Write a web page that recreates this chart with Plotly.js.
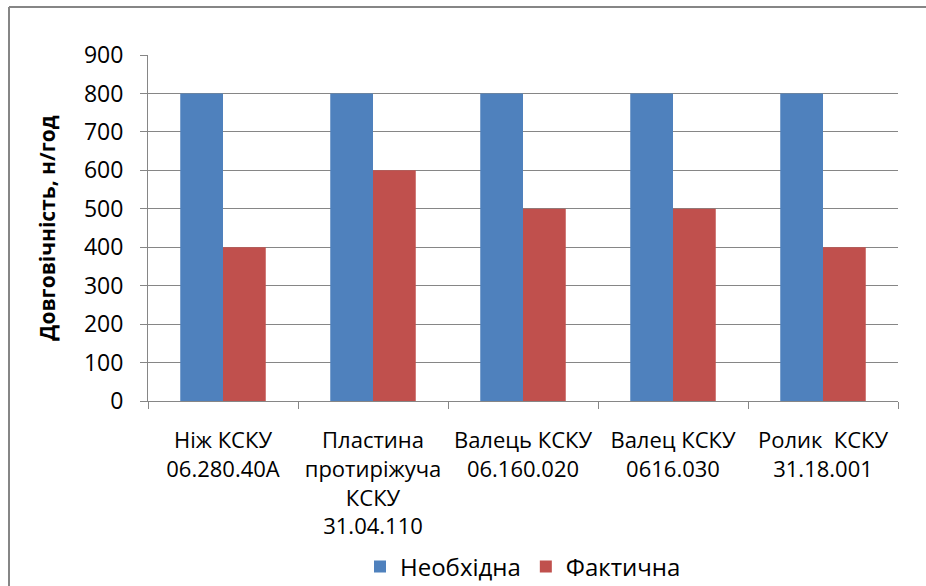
<!DOCTYPE html>
<html><head><meta charset="utf-8">
<script src="https://cdn.plot.ly/plotly-3.0.1.min.js"></script>
<style>html,body{margin:0;padding:0;background:#fff}#chart{width:926px;height:586px}</style>
</head><body><div id="chart"></div>
<script>
const categories = [
  "Ніж КСКУ<br>06.280.40А",
  "Пластина<br>протиріжуча<br>КСКУ<br>31.04.110",
  "Валець КСКУ<br>06.160.020",
  "Валец КСКУ<br>0616.030",
  "Ролик  КСКУ<br>31.18.001"
];
const required = [800, 800, 800, 800, 800];
const actual = [400, 600, 500, 500, 400];
const seriesNames = ["Необхідна", "Фактична"];
const yTicks = [0, 100, 200, 300, 400, 500, 600, 700, 800, 900];

const font = "Open Sans, Noto Sans, sans-serif";
const L = 148, R = 28, T = 55, B = 185, W = 926, H = 586;
const pw = W - L - R, ph = H - T - B;
const px = v => (v - L) / pw, py = v => (H - B - v) / ph;

const data = [
  {type: "bar", x: categories, y: required, name: seriesNames[0], marker: {color: "#4F81BD"}},
  {type: "bar", x: categories, y: actual, name: seriesNames[1], marker: {color: "#C0504D"}}
];
const layout = {
  width: W, height: H,
  margin: {l: L, r: R, t: T, b: B, autoexpand: false},
  paper_bgcolor: "#fff", plot_bgcolor: "#fff",
  barmode: "group", bargap: 0.43, bargroupgap: 0,
  font: {family: font, size: 22, color: "#000"},
  xaxis: {
    type: "category", tickson: "boundaries", ticks: "outside", ticklen: 7, tickcolor: "#868686",
    showline: true, linecolor: "#868686", linewidth: 1, showgrid: false, automargin: false,
    tickangle: 0,
    tickfont: {family: font, size: 22, color: "#000"}, ticklabelstandoff: 20
  },
  yaxis: {
    range: [0, 900], tickvals: yTicks, ticks: "outside", ticklen: 7, tickcolor: "#868686",
    showline: true, linecolor: "#868686", showgrid: true, gridcolor: "#868686", gridwidth: 1,
    zeroline: false, tickfont: {family: font, size: 23, color: "#000"}, ticklabelstandoff: 12,
    automargin: false,
    title: {text: "Довговічність, н/год", font: {family: font, size: 21, color: "#000", weight: "bold"}, standoff: 22}
  },
  legend: {orientation: "h", x: 0.5, xanchor: "center", y: py(567), yanchor: "middle",
    font: {family: font, size: 24, color: "#000"}, itemwidth: 30, tracegroupgap: 0},
  shapes: [
    {type: "line", xref: "paper", yref: "paper", x0: px(9), x1: px(926), y0: py(7), y1: py(7),
     line: {color: "#868686", width: 2}},
    {type: "line", xref: "paper", yref: "paper", x0: px(9), x1: px(9), y0: py(7), y1: py(586),
     line: {color: "#868686", width: 2}}
  ],
  showlegend: true
};
Plotly.newPlot("chart", data, layout, {displayModeBar: false, staticPlot: true});
</script></body></html>
